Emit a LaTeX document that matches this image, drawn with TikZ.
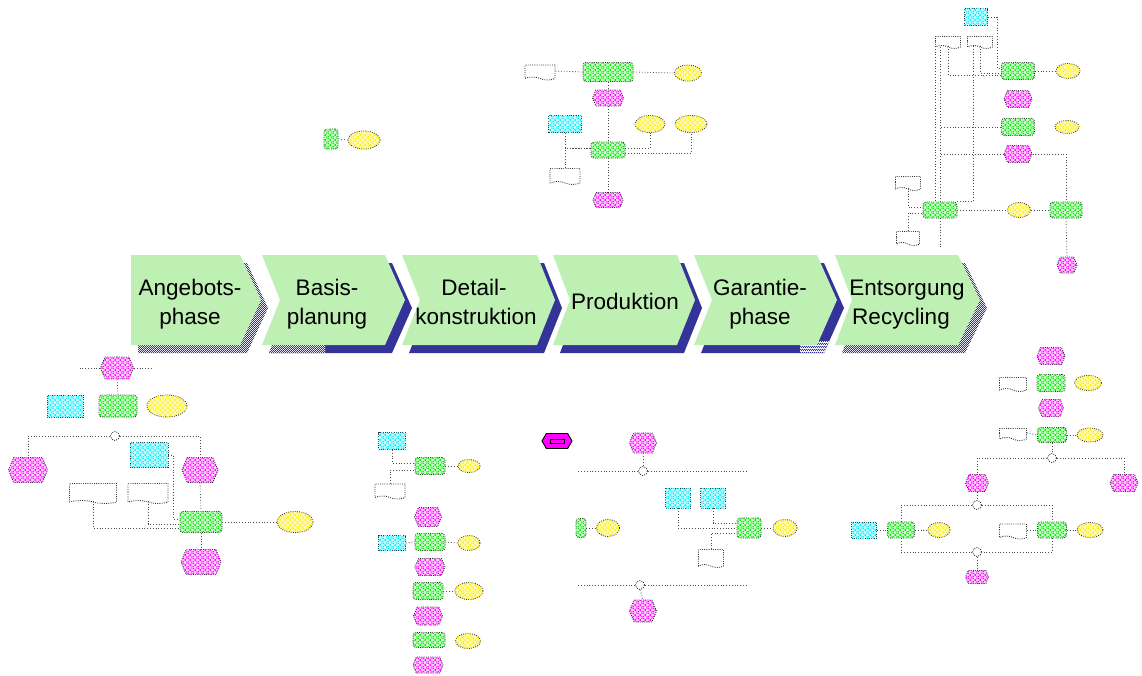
\documentclass[tikz,border=0pt]{standalone}
\usepackage{fontspec}
\setmainfont{Liberation Sans}
\usetikzlibrary{shapes.geometric,shapes.symbols,shapes.misc,patterns,calc}

\definecolor{phasegreen}{RGB}{190,240,180}
\definecolor{shadowblue}{RGB}{51,51,153}
\definecolor{evmag}{RGB}{255,0,255}
\definecolor{fngreen}{RGB}{0,235,0}
\definecolor{sysyel}{RGB}{255,240,0}
\definecolor{orgcyan}{RGB}{0,240,255}

% diagonal cross hatching used inside the small EPC symbols
\pgfdeclarepatternformonly{xcross}{\pgfqpoint{-0.5pt}{-0.5pt}}{\pgfqpoint{5.5pt}{5.5pt}}{\pgfqpoint{5pt}{5pt}}{%
  \pgfsetlinewidth{1pt}%
  \pgfpathmoveto{\pgfqpoint{0pt}{0pt}}\pgfpathlineto{\pgfqpoint{5pt}{5pt}}%
  \pgfpathmoveto{\pgfqpoint{0pt}{5pt}}\pgfpathlineto{\pgfqpoint{5pt}{0pt}}%
  \pgfusepath{stroke}}
% checkerboard used for the lighter shadow parts
\pgfdeclarepatternformonly{dither}{\pgfqpoint{0pt}{0pt}}{\pgfqpoint{2.4pt}{2.4pt}}{\pgfqpoint{2.4pt}{2.4pt}}{%
  \pgfpathrectangle{\pgfqpoint{0pt}{0pt}}{\pgfqpoint{1.2pt}{1.2pt}}%
  \pgfpathrectangle{\pgfqpoint{1.2pt}{1.2pt}}{\pgfqpoint{1.2pt}{1.2pt}}%
  \pgfusepath{fill}}

\tikzset{
  chev/.style n args={4}{insert path={(#1,255) -- (#2,255) -- (#3,300) -- (#2,345) -- (#1,345) -- (#4,300) -- cycle}},
  ph/.style={font=\fontsize{22.5}{27}\selectfont, anchor=base, inner sep=0pt},
  sz/.style 2 args={minimum width=#1pt, minimum height=#2pt},
  bord/.style={draw=black!80, line width=0.9pt, dash pattern=on 0.9pt off 1.3pt, inner sep=0pt},
  ev/.style={bord, shape=signal, signal to=west and east, signal pointer angle=135,
    fill=evmag!20, postaction={pattern=xcross, pattern color=evmag}},
  fn/.style={bord, rectangle, rounded corners=3pt,
    fill=fngreen!20, postaction={pattern=xcross, pattern color=fngreen}},
  sys/.style={bord, ellipse,
    fill=sysyel!25, postaction={pattern=xcross, pattern color=sysyel}},
  org/.style={bord, rectangle,
    fill=orgcyan!22, postaction={pattern=xcross, pattern color=orgcyan}},
  docu/.style={bord, tape, tape bend top=none, tape bend bottom=out and in, tape bend height=3pt, fill=white},
  xc/.style={bord, circle, minimum size=9pt, fill=white},
  cn/.style={draw=black!70, line width=0.8pt, dash pattern=on 0.8pt off 2pt},
}

\begin{document}
\begin{tikzpicture}[x=1pt,y=-1pt]
\useasboundingbox[fill=white] (0,0) rectangle (1142,675);

% ---------- phase chevrons: shadows ----------
\begin{scope}[shift={(7,8)}]
  \path[pattern=dither, pattern color=shadowblue, chev={131}{240}{261}{131}];
  \path[fill=shadowblue, chev={262}{385}{405}{280}];
  \begin{scope}
    \clip (250,250) rectangle (318,360);
    \path[fill=white, chev={262}{385}{405}{280}];
    \path[pattern=dither, pattern color=shadowblue, chev={262}{385}{405}{280}];
  \end{scope}
  \path[fill=shadowblue, chev={402}{537}{555}{420}];
  \path[fill=shadowblue, chev={553}{677}{695}{570}];
  \path[fill=shadowblue, chev={694}{817}{837}{712}];
  \begin{scope}
    \clip (793,333) rectangle (850,360);
    \path[fill=white, chev={694}{817}{837}{712}];
    \path[pattern=dither, pattern color=shadowblue, chev={694}{817}{837}{712}];
  \end{scope}
  \path[pattern=dither, pattern color=shadowblue, chev={835}{958}{980}{852}];
\end{scope}

% ---------- phase chevrons ----------
\path[fill=phasegreen, chev={131}{240}{261}{131}];
\path[fill=phasegreen, chev={262}{385}{405}{280}];
\path[fill=phasegreen, chev={402}{537}{555}{420}];
\path[fill=phasegreen, chev={553}{677}{695}{570}];
\path[fill=phasegreen, chev={694}{817}{837}{712}];
\path[fill=phasegreen, chev={835}{958}{980}{852}];

\node[ph] (p1a) at (190,295) {Angebots-};
\node[ph] (p1b) at (190,324) {phase};
\node[ph] (p2a) at (327,295) {Basis-};
\node[ph] (p2b) at (327,324) {planung};
\node[ph] (p3a) at (474,295) {Detail-};
\node[ph] (p3b) at (476,324) {konstruktion};
\node[ph] (p4a) at (625,309) {Produktion};
\node[ph] (p5a) at (760,295) {Garantie-};
\node[ph] (p5b) at (760,324) {phase};
\node[ph] (p6a) at (907,295) {Entsorgung};
\node[ph] (p6b) at (901,324) {Recycling};

% ---------- Entsorgung / Recycling chain (top right) ----------
\node[org, sz={23}{17}] (tr_org) at (976,17) {};
\node[docu, sz={25}{12}] (tr_d1) at (948,41) {};
\node[docu, sz={25}{12}] (tr_d2) at (980,41) {};
\node[fn, sz={33}{17}] (tr_f1) at (1018,71) {};
\node[sys, sz={24}{15}] (tr_s1) at (1068,71) {};
\node[ev, sz={28}{17}] (tr_e1) at (1018,99) {};
\node[fn, sz={33}{17}] (tr_f2) at (1018,127) {};
\node[sys, sz={24}{13}] (tr_s2) at (1067,127) {};
\node[ev, sz={28}{17}] (tr_e2) at (1018,154) {};
\node[fn, sz={34}{16}] (tr_f3) at (940,210) {};
\node[sys, sz={23}{15}] (tr_s3) at (1019,210) {};
\node[fn, sz={32}{16}] (tr_f4) at (1066,210) {};
\node[ev, sz={20}{16}] (tr_e3) at (1067,265) {};
\node[docu, sz={25}{14}] (tr_d3) at (908,182) {};
\node[docu, sz={23}{14}] (tr_d4) at (908,237) {};

\draw[cn] (tr_org.east) -- ++(9,0) |- ($(tr_f1.west)+(0,-3)$);
\draw[cn] (tr_d1.south) |- ($(tr_f1.west)+(0,4)$);
\draw[cn] (tr_d2.south) |- ($(tr_f1.west)+(0,2)$);
\draw[cn] (tr_f1.east) -- (tr_s1.west);
\draw[cn] (tr_f2.west) -- (tr_f2.west -| tr_f3.north);
\draw[cn] (tr_f3.north) -- (tr_f3.north |- tr_d1.south);
\draw[cn] (tr_d1.south west) -- (tr_d1.south west |- tr_f3.north);
\draw[cn] ($(tr_d2.south west)+(6,0)$) |- (tr_f3.north east);
\draw[cn] (tr_e2.west) -- (tr_e2.west -| tr_f3.north);
\draw[cn] (tr_e2.east) -| (tr_f4.north);
\draw[cn] (tr_f3.east) -- (tr_s3.west);
\draw[cn] (tr_s3.east) -- (tr_f4.west);
\draw[cn] (tr_f4.south) -- (tr_e3.north);
\draw[cn] (tr_f3.south) -- ++(0,30);
\draw[cn] (tr_d3.south) |- ($(tr_f3.west)+(0,-3)$);
\draw[cn] (tr_d4.north) |- ($(tr_f3.west)+(0,3)$);

% ---------- Produktion chain (top middle) ----------
\node[docu, sz={30}{15}] (tm_d1) at (540,71) {};
\node[fn, sz={50}{19}] (tm_f1) at (608,72) {};
\node[sys, sz={27}{16}] (tm_s1) at (688,73) {};
\node[ev, sz={31}{16}] (tm_e1) at (608,98) {};
\node[org, sz={33}{17}] (tm_o1) at (565,124) {};
\node[sys, sz={30}{17}] (tm_s2) at (650,124) {};
\node[sys, sz={32}{17}] (tm_s3) at (691,124) {};
\node[fn, sz={34}{16}] (tm_f2) at (608,150) {};
\node[docu, sz={30}{16}] (tm_d2) at (565,175) {};
\node[ev, sz={30}{15}] (tm_e2) at (608,200) {};

\draw[cn] (tm_d1.east) -- (tm_f1.west);
\draw[cn] (tm_f1.east) -- (tm_s1.west);
\draw[cn] (tm_f1.south) -- (tm_e1.north);
\draw[cn] (tm_e1.south) -- (tm_f2.north);
\draw[cn] (tm_o1.south) |- ($(tm_f2.west)+(0,-2)$);
\draw[cn] ($(tm_f2.west)+(0,-2)$) -| (tm_d2.north);
\draw[cn] ($(tm_f2.east)+(0,-2)$) -| (tm_s2.south);
\draw[cn] ($(tm_f2.east)+(0,3)$) -| (tm_s3.south);
\draw[cn] (tm_f2.south) -- (tm_e2.north);

% ---------- Basisplanung fragment ----------
\node[fn, sz={14}{20}] (sm_f) at (331,139) {};
\node[sys, sz={32}{18}] (sm_s) at (364,140) {};
\draw[cn] (sm_f.east) -- (sm_s.west);

% ---------- Angebotsphase chain (bottom left) ----------
\node[ev, sz={33}{22}] (bl_e0) at (117,368) {};
\node[org, sz={36}{22}] (bl_o) at (65,406) {};
\node[fn, sz={38}{22}] (bl_f0) at (118,406) {};
\node[sys, sz={40}{22}] (bl_s0) at (167,406) {};
\node[xc] (bl_x1) at (115,436) {};
\node[ev, sz={39}{25}] (bl_e1) at (28,470) {};
\node[ev, sz={36}{25}] (bl_e2) at (200,470) {};
\node[org, sz={38}{25}] (bl_o1) at (149,455) {};
\node[docu, sz={47}{20}] (bl_d1) at (93,492) {};
\node[docu, sz={40}{20}] (bl_d2) at (148,492) {};
\node[fn, sz={42}{21}] (bl_f1) at (201,522) {};
\node[sys, sz={36}{21}] (bl_s1) at (295,522) {};
\node[ev, sz={40}{25}] (bl_e3) at (201,562) {};

\draw[cn] (bl_e0.west) -- ++(-22,0);
\draw[cn] (bl_e0.east) -- ++(18,0);
\draw[cn] (bl_e0.south) -- (bl_f0.north);
\draw[cn] (bl_x1.west) -| (bl_e1.north);
\draw[cn] (bl_x1.east) -| (bl_e2.north);
\draw[cn] (bl_e2.south) -- (bl_f1.north);
\draw[cn] (bl_o1.east) -- ++(5,0) |- ($(bl_f1.west)+(0,-3)$);
\draw[cn] (bl_d1.south) |- ($(bl_f1.west)+(0,6)$);
\draw[cn] (bl_d2.south) |- ($(bl_f1.west)+(0,2)$);
\draw[cn] (bl_f1.east) -- (bl_s1.west);
\draw[cn] (bl_f1.south) -- (bl_e3.north);

% ---------- Basisplanung / Detailkonstruktion column ----------
\node[org, sz={27}{17}] (co_o1) at (392,441) {};
\node[fn, sz={30}{17}] (co_f1) at (430,466) {};
\node[sys, sz={22}{13}] (co_s1) at (469,466) {};
\node[docu, sz={30}{15}] (co_d1) at (390,490) {};
\node[ev, sz={27}{19}] (co_e1) at (428,517) {};
\node[org, sz={27}{15}] (co_o2) at (392,543) {};
\node[fn, sz={30}{17}] (co_f2) at (430,542) {};
\node[sys, sz={22}{15}] (co_s2) at (469,543) {};
\node[ev, sz={30}{17}] (co_e2) at (430,567) {};
\node[fn, sz={30}{17}] (co_f3) at (428,591) {};
\node[sys, sz={28}{17}] (co_s3) at (469,591) {};
\node[ev, sz={29}{18}] (co_e3) at (428,616) {};
\node[fn, sz={32}{15}] (co_f4) at (429,640) {};
\node[sys, sz={25}{15}] (co_s4) at (468,641) {};
\node[ev, sz={30}{16}] (co_e4) at (428,665) {};

\draw[cn] (co_o1.south) |- ($(co_f1.west)+(0,-3)$);
\draw[cn] (co_d1.north) |- ($(co_f1.west)+(0,4)$);
\draw[cn] (co_f1.east) -- (co_s1.west);
\draw[cn] (co_o2.east) -- (co_f2.west);
\draw[cn] (co_f2.east) -- (co_s2.west);
\draw[cn] (co_f3.east) -- (co_s3.west);

% ---------- Produktion fragment (bottom middle) ----------
\node[bord, solid, draw=black, shape=signal, signal to=west and east, signal pointer angle=120,
      fill=evmag, sz={30}{15}] (mb_obj) at (557,441) {};
\draw[black, line width=1pt] ($(mb_obj.center)+(-7,-2)$) rectangle ($(mb_obj.center)+(7,2)$);
\node[ev, sz={27}{20}] (mb_e1) at (643,443) {};
\node[xc] (mb_x1) at (643,471) {};
\coordinate (mb_l1) at (577,471);
\coordinate (mb_r1) at (747,471);
\node[org, sz={25}{20}] (mb_o1) at (678,498) {};
\node[org, sz={25}{20}] (mb_o2) at (713,498) {};
\node[fn, sz={24}{20}] (mb_f1) at (749,528) {};
\node[sys, sz={24}{17}] (mb_s1) at (785,528) {};
\node[docu, sz={25}{18}] (mb_d1) at (711,557) {};
\node[fn, sz={10}{19}] (mb_f0) at (581,528) {};
\node[sys, sz={23}{17}] (mb_s0) at (608,528) {};
\node[xc] (mb_x2) at (640,585) {};
\coordinate (mb_l2) at (577,585);
\coordinate (mb_r2) at (747,585);
\node[ev, sz={27}{22}] (mb_e2) at (643,611) {};

\draw[cn] (mb_e1.south) -- (mb_x1.north);
\draw[cn] (mb_x1.west) -- (mb_l1);
\draw[cn] (mb_x1.east) -- (mb_r1);
\draw[cn] (mb_o1.south) |- (mb_f1.west);
\draw[cn] (mb_o2.south) |- ($(mb_f1.west)+(0,-5)$);
\draw[cn] (mb_d1.north) |- ($(mb_f1.west)+(0,5)$);
\draw[cn] (mb_f1.east) -- (mb_s1.west);
\draw[cn] (mb_f0.east) -- (mb_s0.west);
\draw[cn] (mb_x2.west) -- (mb_l2);
\draw[cn] (mb_x2.east) -- (mb_r2);
\draw[cn] (mb_x2.south) -- (mb_e2.north);

% ---------- Garantiephase / Entsorgung chain (bottom right) ----------
\node[ev, sz={28}{17}] (br_e0) at (1051,356) {};
\node[docu, sz={27}{14}] (br_d0) at (1013,383) {};
\node[fn, sz={28}{17}] (br_f0) at (1051,383) {};
\node[sys, sz={27}{15}] (br_s0) at (1088,383) {};
\node[ev, sz={25}{17}] (br_e1) at (1051,408) {};
\node[docu, sz={27}{12}] (br_d1) at (1013,433) {};
\node[fn, sz={29}{15}] (br_f1) at (1052,435) {};
\node[sys, sz={26}{14}] (br_s1) at (1090,435) {};
\node[xc] (br_x1) at (1052,458) {};
\node[ev, sz={23}{17}] (br_e2) at (977,483) {};
\node[ev, sz={28}{17}] (br_e3) at (1124,483) {};
\node[xc] (br_x2) at (977,505) {};
\node[org, sz={25}{16}] (br_o) at (864,530) {};
\node[fn, sz={27}{16}] (br_f2) at (901,530) {};
\node[sys, sz={22}{15}] (br_s2) at (939,530) {};
\node[docu, sz={27}{15}] (br_d2) at (1013,530) {};
\node[fn, sz={29}{16}] (br_f3) at (1052,530) {};
\node[sys, sz={26}{15}] (br_s3) at (1090,530) {};
\node[xc] (br_x3) at (977,552) {};
\node[ev, sz={23}{13}] (br_e4) at (977,577) {};

\draw[cn] (br_d1.east) -- (br_f1.west);
\draw[cn] (br_f1.east) -- (br_s1.west);
\draw[cn] (br_f1.south) -- (br_x1.north);
\draw[cn] (br_x1.west) -| (br_e2.north);
\draw[cn] (br_x1.east) -| (br_e3.north);
\draw[cn] (br_e2.south) -- (br_x2.north);
\draw[cn] (br_x2.west) -| (br_f2.north);
\draw[cn] (br_x2.east) -| (br_f3.north);
\draw[cn] (br_o.east) -- (br_f2.west);
\draw[cn] (br_f2.east) -- (br_s2.west);
\draw[cn] (br_d2.east) -- (br_f3.west);
\draw[cn] (br_f3.east) -- (br_s3.west);
\draw[cn] (br_f2.south) |- (br_x3.west);
\draw[cn] (br_f3.south) |- (br_x3.east);
\draw[cn] (br_x3.south) -- (br_e4.north);

\end{tikzpicture}
\end{document}
